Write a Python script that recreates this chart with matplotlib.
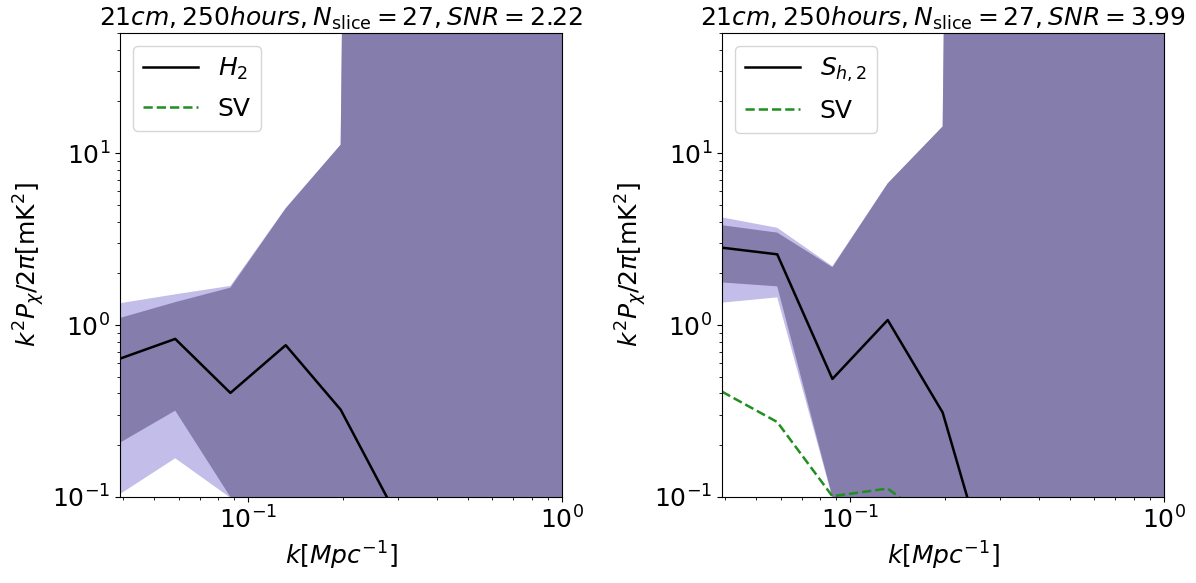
import matplotlib
matplotlib.use("Agg")
import matplotlib.pyplot as plt

# k bins [Mpc^-1]
k = [0.039, 0.0585, 0.0877, 0.1316, 0.197, 0.296, 0.444, 0.666, 1.0]

# Left panel: H_2
h2_line = [0.638, 0.831, 0.403, 0.764, 0.322, 0.079, 0.03, 0.01, 0.005]
h2_sv = [0.05, 0.04, 0.02, 0.015, 0.01, 0.005, 0.003, 0.002, 0.001]
h2_outer_lo = [0.104, 0.168, 0.099, 0.01, 0.005, 0.002, 0.001, 0.001, 0.001]
h2_outer_hi = [1.34, 1.51, 1.69, 4.8, 11.2, 1e30, 1e30, 1e30, 1e30]
h2_inner_lo = [0.207, 0.318, 0.1, 0.01, 0.005, 0.002, 0.001, 0.001, 0.001]
h2_inner_hi = [1.10, 1.36, 1.65, 4.77, 11.2, 1e30, 1e30, 1e30, 1e30]

# Right panel: S_{h,2}
sh2_line = [2.82, 2.58, 0.486, 1.07, 0.310, 0.024, 0.01, 0.005, 0.002]
sh2_sv = [0.41, 0.273, 0.101, 0.112, 0.065, 0.03, 0.01, 0.005, 0.002]
sh2_outer_lo = [1.35, 1.45, 0.099, 0.01, 0.005, 0.002, 0.001, 0.001, 0.001]
sh2_outer_hi = [4.23, 3.68, 2.20, 6.67, 14.3, 1e30, 1e30, 1e30, 1e30]
sh2_inner_lo = [1.77, 1.68, 0.1, 0.01, 0.005, 0.002, 0.001, 0.001, 0.001]
sh2_inner_hi = [3.81, 3.45, 2.17, 6.67, 14.3, 1e30, 1e30, 1e30, 1e30]

titles = [r"$21cm, 250hours, N_{\rm slice} = 27, SNR = 2.22$",
          r"$21cm, 250hours, N_{\rm slice} = 27, SNR = 3.99$"]
labels = [r"$H_2$", r"$S_{h,2}$"]

panels = [
    (h2_line, h2_sv, h2_outer_lo, h2_outer_hi, h2_inner_lo, h2_inner_hi),
    (sh2_line, sh2_sv, sh2_outer_lo, sh2_outer_hi, sh2_inner_lo, sh2_inner_hi),
]

LIGHT = "#c2bde9"
DARK = "#857dac"
FS = 18

fig = plt.figure(figsize=(11.96, 5.83), dpi=100)
lefts = [120 / 1196, 722 / 1196]
width = 442 / 1196
bottom = 1 - 497 / 583
height = 464 / 583

for i, (line, sv, olo, ohi, ilo, ihi) in enumerate(panels):
    ax = fig.add_axes([lefts[i], bottom, width, height])
    ax.set_xscale("log")
    ax.set_yscale("log")
    ax.fill_between(k, olo, ohi, color=LIGHT, lw=0)
    ax.fill_between(k, ilo, ihi, color=DARK, lw=0)
    ax.plot(k, line, color="black", lw=1.8, label=labels[i])
    ax.plot(k, sv, color="#1f8f1f", lw=1.8, ls="--", label="SV")
    ax.set_xlim(0.039, 1.0)
    ax.set_ylim(0.1, 50)
    ax.set_title(titles[i], fontsize=FS, pad=5)
    ax.set_xlabel(r"$k[Mpc^{-1}]$", fontsize=FS)
    ax.set_ylabel(r"$k^2P_\chi/2\pi[\rm mK^2]$", fontsize=FS)
    ax.tick_params(axis="both", which="major", labelsize=FS)
    ax.legend(loc="upper left", fontsize=FS, handlelength=2.2,
              labelspacing=0.6)

fig.savefig("out.png", dpi=100)
